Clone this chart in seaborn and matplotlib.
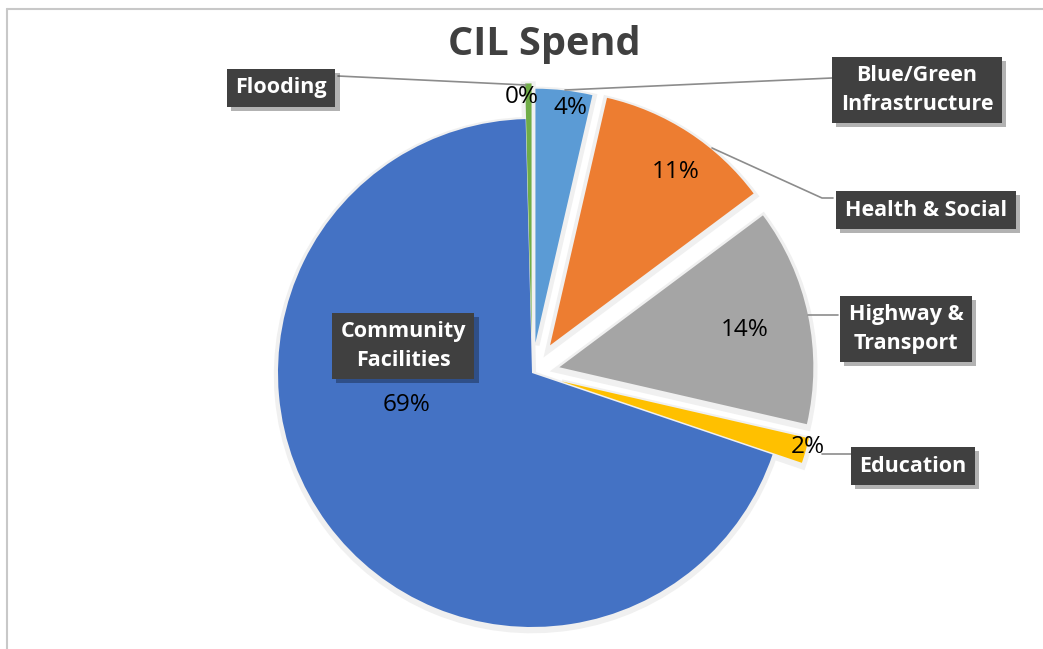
import numpy as np
import matplotlib
matplotlib.use("Agg")
import matplotlib.pyplot as plt
import matplotlib.patheffects as pe
from matplotlib.lines import Line2D
import seaborn as sns

sns.set_theme(style="white")
plt.rcParams['font.family'] = ['Open Sans', 'DejaVu Sans']

# slices in drawing order (clockwise from 12 o'clock)
categories = ['Blue/Green\nInfrastructure', 'Health & Social', 'Highway &\nTransport',
              'Education', 'Community\nFacilities', 'Flooding']
values = [3.6, 11.2, 13.8, 1.6, 69.4, 0.4]
explode = [0.12, 0.13, 0.11, 0.12, 0.0, 0.14]
colors = sns.color_palette(['#5B9BD5', '#ED7D31', '#A5A5A5', '#FFC000', '#4472C4', '#70AD47'])

W, H = 1043, 649
CX, CY, R = 532, 373, 254   # pie centre and radius in pixels


def px(x, y):
    # pixel position (from top-left) -> data coords of the pie axes
    return ((x - CX) / R, (CY - y) / R)


fig = plt.figure(figsize=(W / 100, H / 100), dpi=100)
ax = fig.add_axes([0, 0, 1, 1])

wedges, texts, pcts = ax.pie(
    values, explode=explode, colors=colors, startangle=90, counterclock=False,
    autopct='%.0f%%', textprops=dict(fontsize=17.5, color='black'),
    wedgeprops=dict(linewidth=0),
    shadow=dict(ox=0.0, oy=-0.006, facecolor='#e4e4e4', edgecolor='#f0f0f0',
                linewidth=6, alpha=1.0),
)

ax.set_xlim(-CX / R, (W - CX) / R)
ax.set_ylim(-(H - CY) / R, CY / R)
ax.set_aspect('auto')
ax.axis('off')

# percent label positions (pixels)
pct_pos = [(570, 108), (676, 172), (745, 330), (808, 447), (407, 405), (522, 97)]
for t, p in zip(pcts, pct_pos):
    t.set_position(px(*p))
    t.set_ha('center')
    t.set_va('center')

# category label boxes
box_pos = [(917, 90), (926, 210), (906, 329), (913, 466), (403, 346), (281, 88)]
for name, p in zip(categories, box_pos):
    t = ax.text(*px(*p), name, ha='center', va='center', color='white',
                fontsize=15.5, fontweight='bold', linespacing=1.45, zorder=6,
                bbox=dict(boxstyle='square,pad=0.4', fc='#404040', ec='none'))
    t.get_bbox_patch().set_path_effects(
        [pe.SimplePatchShadow(offset=(3, -3), shadow_rgbFace='black', alpha=0.3), pe.Normal()])

# leader lines
leaders = [
    [(832, 78), (565, 90)],
    [(833, 198), (822, 198), (712, 148)],
    [(838, 315), (808, 315)],
    [(851, 454), (822, 454)],
    [(338, 76), (526, 85)],
]
for pts in leaders:
    xy = np.array([px(*q) for q in pts])
    ax.plot(xy[:, 0], xy[:, 1], color='#8c8c8c', lw=1.2, zorder=5)

ax.text(*px(544, 45), 'CIL Spend', ha='center', va='center', fontsize=28.5,
        fontweight='bold', color='#404040')

# chart frame (only top and left visible in the crop)
fig.add_artist(Line2D([7 / W, 7 / W], [0, 1 - 9 / H], transform=fig.transFigure,
                      color='#c8c8c8', lw=1.5))
fig.add_artist(Line2D([7 / W, 1], [1 - 9 / H, 1 - 9 / H], transform=fig.transFigure,
                      color='#c8c8c8', lw=1.5))

fig.savefig('out.png', dpi=100)
